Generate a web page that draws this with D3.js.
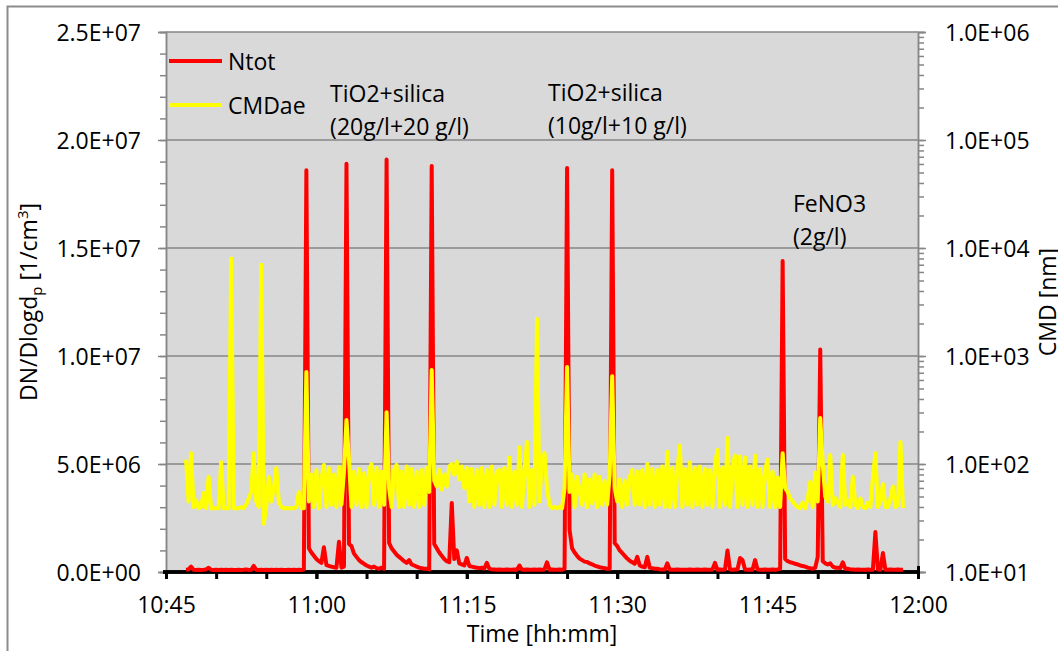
<!DOCTYPE html>
<html>
<head>
<meta charset="utf-8">
<script src="https://cdn.jsdelivr.net/npm/d3@7"></script>
<style>
  body { margin: 0; background: #fff; }
  svg { display: block; font-family: "Open Sans", sans-serif; }
</style>
</head>
<body>
<div id="container"></div>
<script>
/**
 * CONSTANTS AND GLOBALS
 * */
const width = 1058,
  height = 651,
  margin = { top: 32, bottom: 79, left: 166, right: 140 };

/**
 * DATA
 * both series are sampled every 15 s, starting 2 min after 10:45
 * */
const sampleStart = 2.0;   // minutes after 10:45
const sampleStep = 0.25;   // minutes

// Ntot, in units of 1E+06 1/cm3 (one row = 5 minutes)
const ntot = [
  0.10, 0.12, 0.25, 0.10, 0.09, 0.10, 0.09, 0.10, 0.12, 0.20, 0.10, 0.09, 0.10, 0.09, 0.10, 0.09, 0.10, 0.09, 0.10, 0.09,
  0.09, 0.10, 0.09, 0.10, 0.12, 0.09, 0.10, 0.28, 0.10, 0.09, 0.10, 0.09, 0.10, 0.09, 0.10, 0.09, 0.10, 0.09, 0.10, 0.09,
  0.09, 0.10, 0.09, 0.10, 0.09, 0.10, 0.09, 0.12, 18.6, 1.10, 0.90, 0.75, 0.60, 0.50, 0.42, 1.15, 0.32, 0.28, 0.25, 0.22,
  0.20, 1.40, 0.20, 0.25, 18.9, 1.30, 1.20, 0.85, 0.70, 0.55, 0.45, 0.38, 0.30, 0.25, 0.20, 0.25, 0.18, 0.15, 0.20, 0.15,
  19.1, 1.35, 1.10, 0.95, 0.80, 0.70, 0.60, 0.50, 0.42, 0.55, 0.35, 0.30, 0.25, 0.20, 0.18, 0.15, 0.15, 0.12, 18.8, 1.30,
  1.10, 0.90, 0.75, 0.60, 0.50, 0.45, 3.20, 0.60, 1.00, 0.40, 0.35, 0.30, 0.65, 0.28, 0.25, 0.22, 0.20, 0.18, 0.20, 0.16,
  0.42, 0.15, 0.12, 0.12, 0.10, 0.12, 0.10, 0.10, 0.12, 0.10, 0.10, 0.12, 0.10, 0.30, 0.10, 0.10, 0.12, 0.10, 0.10, 0.12,
  0.10, 0.12, 0.10, 0.12, 0.45, 0.10, 0.12, 0.10, 0.10, 0.12, 0.10, 0.15, 18.7, 1.94, 1.10, 0.90, 0.75, 0.62, 0.55, 0.48,
  0.46, 0.40, 0.35, 0.30, 0.26, 0.22, 0.20, 0.18, 0.15, 0.15, 18.6, 1.34, 1.20, 1.00, 0.88, 0.75, 0.62, 0.52, 0.45, 0.38,
  0.70, 0.30, 0.25, 0.22, 0.70, 0.20, 0.18, 0.15, 0.15, 0.12, 0.12, 0.12, 0.40, 0.10, 0.10, 0.10, 0.12, 0.10, 0.10, 0.10,
  0.10, 0.12, 0.10, 0.10, 0.12, 0.10, 0.10, 0.12, 0.10, 0.10, 0.12, 0.42, 0.10, 0.12, 0.10, 0.12, 1.00, 0.12, 0.10, 0.12,
  0.12, 0.65, 0.55, 0.12, 0.10, 0.12, 0.10, 0.55, 0.12, 0.10, 0.10, 0.12, 0.10, 0.10, 0.12, 0.10, 0.12, 0.15, 14.4, 0.60,
  0.50, 0.45, 0.42, 0.38, 0.35, 0.30, 0.28, 0.25, 0.20, 0.18, 0.15, 0.20, 0.70, 10.3, 0.50, 0.40, 0.35, 0.40, 0.25, 0.20,
  0.20, 0.18, 0.45, 0.15, 0.15, 0.12, 0.12, 0.10, 0.12, 0.10, 0.10, 0.10, 0.12, 0.10, 0.10, 1.85, 0.12, 0.10, 0.88, 0.10,
  0.10, 0.12, 0.10, 0.10, 0.12, 0.10, 0.10
];

// CMDae, nm (one row = 5 minutes)
const cmdae = [
  110, 45, 126, 40, 46, 39, 40, 54, 39, 76, 39, 39, 39, 39, 104, 39, 39, 39, 8000, 39,
  39, 39, 40, 39, 42, 48, 55, 126, 45, 40, 7000, 28, 40, 76, 45, 60, 92, 45, 40, 39,
  39, 39, 39, 39, 40, 55, 39, 39, 710, 45, 80, 40, 88, 39, 72, 98, 40, 92, 42, 80,
  40, 94, 42, 85, 255, 110, 40, 85, 42, 90, 40, 82, 40, 88, 100, 42, 92, 40, 85, 42,
  302, 60, 40, 88, 98, 40, 85, 40, 95, 42, 90, 40, 85, 40, 88, 42, 92, 55, 740, 70,
  62, 88, 58, 80, 62, 95, 100, 80, 105, 72, 95, 60, 92, 45, 90, 40, 88, 42, 92, 40,
  88, 40, 95, 42, 85, 88, 40, 92, 42, 115, 40, 85, 42, 143, 40, 85, 160, 40, 88, 42,
  2200, 45, 115, 126, 60, 42, 39, 40, 39, 40, 39, 60, 790, 55, 80, 40, 76, 57, 42, 80,
  40, 72, 43, 80, 40, 76, 42, 70, 42, 80, 650, 60, 45, 72, 40, 70, 42, 76, 88, 42,
  85, 42, 88, 40, 100, 42, 90, 40, 88, 42, 95, 40, 130, 40, 92, 40, 88, 148, 40, 90,
  42, 104, 40, 92, 42, 95, 40, 90, 42, 88, 40, 98, 135, 40, 92, 42, 174, 40, 95, 120,
  40, 118, 42, 115, 40, 95, 42, 120, 40, 90, 40, 88, 110, 40, 85, 40, 75, 40, 126, 60,
  55, 48, 45, 42, 40, 39, 44, 39, 48, 68, 40, 83, 45, 267, 100, 50, 45, 121, 42, 48,
  44, 40, 121, 42, 46, 40, 76, 42, 39, 48, 40, 39, 44, 40, 74, 126, 40, 45, 65, 40,
  40, 48, 62, 40, 42, 160, 39
];

const seriesNames = ["Ntot", "CMDae"];
const seriesColors = ["#ff0000", "#ffff00"];

const leftTicks = [0, 5, 10, 15, 20, 25];
const leftTickLabels = ["0.0E+00", "5.0E+06", "1.0E+07", "1.5E+07", "2.0E+07", "2.5E+07"];
const rightTicks = [1e1, 1e2, 1e3, 1e4, 1e5, 1e6];
const rightTickLabels = ["1.0E+01", "1.0E+02", "1.0E+03", "1.0E+04", "1.0E+05", "1.0E+06"];
const timeTicks = ["10:45", "11:00", "11:15", "11:30", "11:45", "12:00"];

const annotations = [
  { time: "11:01:22", value: 21.76, lines: ["TiO2+silica", "(20g/l+20 g/l)"] },
  { time: "11:23:06", value: 21.81, lines: ["TiO2+silica", "(10g/l+10 g/l)"] },
  { time: "11:47:32", value: 16.67, lines: ["FeNO3", "(2g/l)"] }
];

/**
 * SCALES
 * */
const parseHM = d3.timeParse("%H:%M");
const parseHMS = d3.timeParse("%H:%M:%S");
const t0 = parseHM(timeTicks[0]);
const minutesToDate = m => new Date(t0.getTime() + m * 60000);
const times = ntot.map((_, i) => minutesToDate(sampleStart + i * sampleStep));

const x = d3.scaleTime()
  .domain([parseHM(timeTicks[0]), parseHM(timeTicks[timeTicks.length - 1])])
  .range([margin.left, width - margin.right]);
const yLeft = d3.scaleLinear()
  .domain([leftTicks[0], leftTicks[leftTicks.length - 1]])
  .range([height - margin.bottom, margin.top]);
const yRight = d3.scaleLog()
  .domain([rightTicks[0], rightTicks[rightTicks.length - 1]])
  .range([height - margin.bottom, margin.top]);

const axisGrey = "#868686";
const fontSize = 23;

/**
 * DRAW
 * */
const svg = d3.select("#container")
  .append("svg")
  .attr("width", width)
  .attr("height", height);

// outer chart frame
svg.append("rect")
  .attr("x", 7.5).attr("y", 6.5)
  .attr("width", width).attr("height", height)
  .attr("fill", "none")
  .attr("stroke", "#8c8c8c")
  .attr("stroke-width", 2);

// plot area
svg.append("rect")
  .attr("x", margin.left).attr("y", margin.top)
  .attr("width", width - margin.left - margin.right)
  .attr("height", height - margin.top - margin.bottom)
  .attr("fill", "#d9d9d9");

// gridlines
svg.append("g")
  .selectAll("line")
  .data(leftTicks.slice(1))
  .join("line")
  .attr("x1", margin.left).attr("x2", width - margin.right)
  .attr("y1", d => yLeft(d)).attr("y2", d => yLeft(d))
  .attr("stroke", axisGrey)
  .attr("stroke-width", 1.5);

// left axis: minor ticks, then major ticks with labels
const gLeft = svg.append("g").attr("transform", `translate(${margin.left},0)`);
gLeft.append("g")
  .call(d3.axisLeft(yLeft).tickValues(d3.range(0, 26, 1)).tickSize(6).tickFormat(""));
gLeft.append("g")
  .call(d3.axisLeft(yLeft).tickValues(leftTicks).tickSize(8).tickPadding(17)
    .tickFormat((d, i) => leftTickLabels[i]));
gLeft.selectAll("path.domain").attr("stroke", axisGrey).attr("stroke-width", 1.5);
gLeft.selectAll(".tick line").attr("stroke", axisGrey).attr("stroke-width", 1.5);
gLeft.selectAll(".tick text")
  .attr("font-size", fontSize).attr("font-family", "Open Sans").attr("fill", "#000").attr("dy", "0.39em");

// right axis (log)
const gRight = svg.append("g").attr("transform", `translate(${width - margin.right},0)`);
gRight.append("g")
  .call(d3.axisRight(yRight).tickValues(yRight.ticks()).tickSize(6).tickFormat(""));
gRight.append("g")
  .call(d3.axisRight(yRight).tickValues(rightTicks).tickSize(8).tickPadding(19)
    .tickFormat((d, i) => rightTickLabels[i]));
gRight.selectAll("path.domain").attr("stroke", axisGrey).attr("stroke-width", 1.5);
gRight.selectAll(".tick line").attr("stroke", axisGrey).attr("stroke-width", 1.5);
gRight.selectAll(".tick text")
  .attr("font-size", fontSize).attr("font-family", "Open Sans").attr("fill", "#000").attr("dy", "0.39em");

// x axis: black line, minor ticks every 5 min, major ticks crossing the line
const gX = svg.append("g").attr("transform", `translate(0,${height - margin.bottom})`);
gX.append("g")
  .call(d3.axisBottom(x).ticks(d3.timeMinute.every(5)).tickSize(7).tickSizeOuter(0).tickFormat(""));
gX.append("g")
  .call(d3.axisBottom(x).tickValues(timeTicks.map(parseHM)).tickSize(7).tickSizeOuter(0).tickPadding(18)
    .tickFormat((d, i) => timeTicks[i]));
gX.selectAll("path.domain").attr("stroke", "#000").attr("stroke-width", 3.5).attr("d", `M${margin.left - 3},0H${width - margin.right + 2}`);
gX.selectAll(".tick line").attr("stroke", "#000").attr("stroke-width", 3);
gX.selectAll(".tick text")
  .attr("font-size", fontSize).attr("font-family", "Open Sans").attr("fill", "#000");
gX.select("g:last-child").selectAll(".tick line").attr("y1", -6);

// series: Ntot first, CMDae on top
const ntotLine = d3.line()
  .x((d, i) => x(times[i]))
  .y(d => yLeft(d));
const cmdLine = d3.line()
  .x((d, i) => x(times[i]))
  .y(d => yRight(d));

svg.append("path")
  .datum(ntot)
  .attr("d", ntotLine)
  .attr("fill", "none")
  .attr("stroke", seriesColors[0])
  .attr("stroke-width", 4)
  .attr("stroke-linejoin", "round");

svg.append("path")
  .datum(cmdae)
  .attr("d", cmdLine)
  .attr("fill", "none")
  .attr("stroke", seriesColors[1])
  .attr("stroke-width", 4)
  .attr("stroke-linejoin", "round");

// legend
const legend = svg.append("g")
  .selectAll("g")
  .data(seriesNames)
  .join("g")
  .attr("transform", (d, i) => `translate(169,${61 + i * 44})`);
legend.append("line")
  .attr("x1", 0).attr("x2", 53)
  .attr("stroke", (d, i) => seriesColors[i])
  .attr("stroke-width", 4);
legend.append("text")
  .attr("x", 59).attr("y", 9)
  .attr("font-size", fontSize)
  .text(d => d);

// annotations
const notes = svg.append("g")
  .selectAll("text")
  .data(annotations)
  .join("text")
  .attr("font-size", fontSize)
  .attr("x", d => x(parseHMS(d.time)))
  .attr("y", d => yLeft(d.value));
notes.selectAll("tspan")
  .data(d => d.lines.map(l => ({ l, x: x(parseHMS(d.time)) })))
  .join("tspan")
  .attr("x", d => d.x)
  .attr("dy", (d, i) => i === 0 ? 0 : 33)
  .text(d => d.l);

// axis titles
svg.append("text")
  .attr("x", (margin.left + width - margin.right) / 2)
  .attr("y", 642)
  .attr("text-anchor", "middle")
  .attr("font-size", fontSize)
  .text("Time [hh:mm]");

const yTitle = svg.append("text")
  .attr("transform", `translate(37,${(margin.top + height - margin.bottom) / 2}) rotate(-90)`)
  .attr("text-anchor", "middle")
  .attr("font-size", fontSize);
yTitle.append("tspan").text("DN/Dlogd");
yTitle.append("tspan").attr("font-size", 15).attr("dy", 5).text("p");
yTitle.append("tspan").attr("dy", -5).text(" [1/cm");
yTitle.append("tspan").attr("font-size", 15).attr("dy", -9).text("3");
yTitle.append("tspan").attr("dy", 9).text("]");

svg.append("text")
  .attr("transform", `translate(1056,${(margin.top + height - margin.bottom) / 2}) rotate(-90)`)
  .attr("text-anchor", "middle")
  .attr("font-size", fontSize)
  .text("CMD [nm]");
</script>
</body>
</html>
